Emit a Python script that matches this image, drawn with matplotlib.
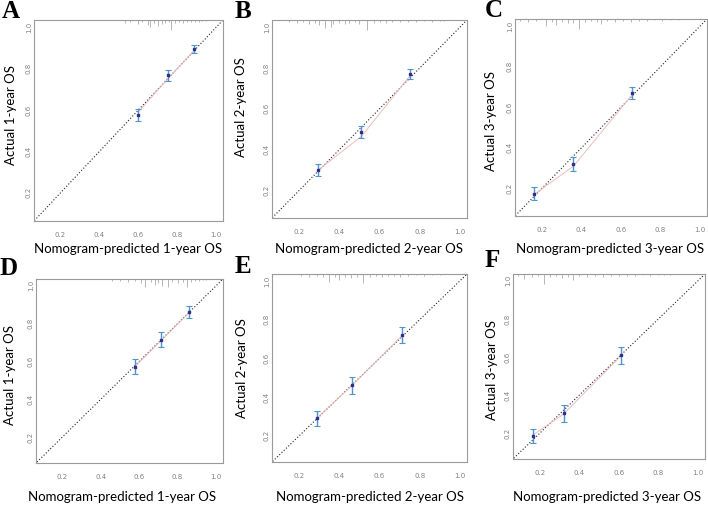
import matplotlib
matplotlib.use("Agg")
import matplotlib.pyplot as plt

# Calibration points (nomogram predicted vs actual), one set per panel
letters = ["A", "B", "C", "D", "E", "F"]
years = [1, 2, 3, 1, 2, 3]

pred = [
    [0.600, 0.755, 0.885],
    [0.295, 0.510, 0.750],
    [0.160, 0.360, 0.655],
    [0.580, 0.715, 0.860],
    [0.290, 0.465, 0.710],
    [0.165, 0.320, 0.610],
]
actual = [
    [0.578, 0.768, 0.895],
    [0.300, 0.485, 0.772],
    [0.175, 0.320, 0.670],
    [0.572, 0.715, 0.862],
    [0.290, 0.460, 0.720],
    [0.185, 0.305, 0.610],
]
err = [
    [0.030, 0.025, 0.020],
    [0.028, 0.030, 0.025],
    [0.030, 0.035, 0.030],
    [0.040, 0.040, 0.030],
    [0.040, 0.045, 0.040],
    [0.035, 0.045, 0.045],
]
# bias-corrected curve (thin red line)
corr_y = [
    [0.590, 0.755, 0.885],
    [0.300, 0.465, 0.760],
    [0.170, 0.310, 0.660],
    [0.575, 0.712, 0.858],
    [0.292, 0.462, 0.715],
    [0.190, 0.300, 0.605],
]

# rug of predicted values along the top edge (position, length in px)
rug_x = [
    [0.53, 0.56, 0.60, 0.62, 0.65, 0.66, 0.68, 0.70, 0.72, 0.74, 0.76, 0.77, 0.79, 0.81, 0.83, 0.85, 0.87, 0.89, 0.91, 0.93, 0.95],
    [0.15, 0.19, 0.22, 0.25, 0.28, 0.30, 0.33, 0.36, 0.37, 0.40, 0.43, 0.45, 0.48, 0.50, 0.54, 0.57, 0.60, 0.63, 0.66, 0.70, 0.74, 0.78, 0.82, 0.86, 0.90, 0.92],
    [0.09, 0.13, 0.17, 0.22, 0.25, 0.27, 0.30, 0.33, 0.36, 0.39, 0.42, 0.45, 0.48, 0.50, 0.53, 0.57, 0.61, 0.65, 0.69, 0.73, 0.77, 0.81, 0.85, 0.89],
    [0.46, 0.50, 0.54, 0.58, 0.61, 0.63, 0.66, 0.68, 0.70, 0.72, 0.75, 0.77, 0.80, 0.83, 0.85, 0.87, 0.89, 0.91, 0.93, 0.95],
    [0.21, 0.25, 0.29, 0.32, 0.35, 0.38, 0.40, 0.43, 0.46, 0.49, 0.52, 0.55, 0.58, 0.61, 0.64, 0.67, 0.70, 0.74, 0.78, 0.82, 0.86, 0.90],
    [0.09, 0.12, 0.16, 0.19, 0.22, 0.25, 0.28, 0.31, 0.34, 0.37, 0.40, 0.44, 0.48, 0.52, 0.56, 0.60, 0.64, 0.68, 0.72, 0.76, 0.80, 0.83, 0.86],
]
rug_h = [
    [3, 2, 4, 2, 5, 7, 3, 6, 4, 3, 2, 10, 3, 2, 3, 2, 2, 2, 2, 1, 1],
    [2, 3, 2, 4, 3, 5, 8, 7, 4, 3, 4, 3, 2, 4, 10, 3, 2, 3, 2, 2, 2, 2, 1, 2, 1, 1],
    [2, 3, 2, 7, 3, 6, 3, 4, 4, 10, 3, 2, 3, 5, 2, 3, 2, 3, 2, 2, 1, 2, 1, 1],
    [2, 2, 3, 2, 4, 8, 3, 6, 4, 7, 8, 3, 4, 3, 8, 3, 2, 2, 1, 1],
    [2, 3, 2, 3, 8, 3, 6, 3, 4, 3, 9, 3, 2, 3, 2, 2, 3, 2, 1, 2, 1, 1],
    [2, 5, 3, 2, 10, 3, 2, 4, 3, 6, 2, 3, 2, 3, 2, 2, 2, 2, 1, 2, 1, 1, 1],
]

# axes boxes in pixels: left, top, right, bottom
boxes = [
    (34, 20, 223, 221),
    (272, 20, 467, 218),
    (515, 19, 707, 216),
    (36, 279, 223, 463),
    (272, 274, 467, 462),
    (513, 274, 705, 459),
]
ylab_pos = [(11, 115), (241, 107), (491, 121), (10, 375), (242, 368), (492, 370)]
xlab_pos = [(128, 249), (369, 249), (610, 249), (122, 497), (370, 497), (607, 497)]
letter_pos = [(2, 18), (235, 18), (485, 17), (0, 275), (235, 273), (485, 267)]

W, H = 708, 507
fig = plt.figure(figsize=(W / 100, H / 100), dpi=100)

lo, hi = 0.064, 1.036
ticks = [0.2, 0.4, 0.6, 0.8, 1.0]

for i in range(6):
    l, t, r, b = boxes[i]
    ax = fig.add_axes([l / W, 1 - b / H, (r - l) / W, (b - t) / H])
    ax.set_xlim(lo, hi)
    ax.set_ylim(lo, hi)

    # ideal line
    ax.plot([0, 1.1], [0, 1.1], linestyle=(0, (1, 1.8)), color="#222222", lw=0.8)
    # bias-corrected curve
    ax.plot(pred[i], corr_y[i], color="#eebcbc", lw=0.7)
    # observed with CI
    ax.errorbar(pred[i], actual[i], yerr=err[i], fmt="none", ecolor="#4f93cf",
                elinewidth=1.0, capsize=2.0, capthick=0.8)
    ax.plot(pred[i], actual[i], "s", color="#2e2f8a", ms=1.6)

    # rug along top
    pix = (hi - lo) / (b - t)
    for xv, hv in zip(rug_x[i], rug_h[i]):
        ax.vlines(xv, hi - hv * pix, hi, color="#9a9a9a", lw=0.5)

    ax.set_xticks(ticks)
    ax.set_yticks(ticks)
    ax.set_xticklabels([f"{v:.1f}" for v in ticks])
    ax.set_yticklabels([f"{v:.1f}" for v in ticks], rotation=90, va="center")
    ax.tick_params(labelsize=5, colors="#808080", length=0)
    ax.tick_params(axis="x", pad=8)
    ax.tick_params(axis="y", pad=1.5)
    for s in ax.spines.values():
        s.set_color("#9a9a9a")
        s.set_linewidth(0.8)

    yr = years[i]
    fig.text(ylab_pos[i][0] / W, 1 - ylab_pos[i][1] / H, f"Actual {yr}-year OS",
             rotation=90, ha="center", va="center", fontsize=9.5, family="Lato")
    fig.text(xlab_pos[i][0] / W, 1 - xlab_pos[i][1] / H, f"Nomogram-predicted {yr}-year OS",
             ha="center", va="center", fontsize=9.5, family="Lato")
    fig.text(letter_pos[i][0] / W, 1 - letter_pos[i][1] / H, letters[i],
             ha="left", va="baseline", fontsize=18, fontweight="bold", family="Liberation Serif")

fig.savefig("out.png", dpi=100)
